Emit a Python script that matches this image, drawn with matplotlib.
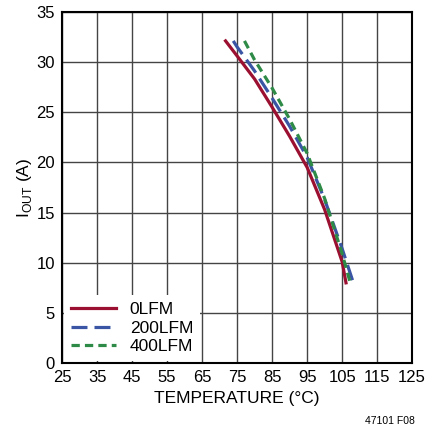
import matplotlib
matplotlib.use("Agg")
import matplotlib.pyplot as plt
from matplotlib import font_manager

# Data
temp_0lfm = [71.7, 75, 80, 85, 90, 95, 100, 105, 106.1]
iout_0lfm = [32.1, 30.6, 28.3, 25.5, 22.6, 19.5, 15.3, 10.1, 8.0]
temp_200lfm = [73.9, 75, 80, 85, 90, 95, 100, 105, 108.3]
iout_200lfm = [32.1, 31.5, 29.1, 26.4, 23.6, 20.5, 16.3, 11.4, 7.9]
temp_400lfm = [77.1, 80, 85, 90, 95, 100, 105, 107.4]
iout_400lfm = [32.1, 30.2, 27.4, 24.3, 20.9, 16.4, 10.9, 7.9]
x_ticks = list(range(25, 126, 10))
y_ticks = list(range(0, 36, 5))

names = {f.name for f in font_manager.fontManager.ttflist}
family = "Liberation Sans" if "Liberation Sans" in names else "DejaVu Sans"
plt.rcParams["font.family"] = [family, "DejaVu Sans"]
plt.rcParams["mathtext.fontset"] = "custom"
plt.rcParams["mathtext.rm"] = family

fig = plt.figure(figsize=(4.28, 4.37), dpi=100)
ax = fig.add_axes([0.145, 0.169, 0.818, 0.804])

ax.plot(temp_0lfm, iout_0lfm, color="#9b1030", lw=2.3, label="0LFM")
ax.plot(temp_200lfm, iout_200lfm, color="#3a55a4", lw=2.3, dashes=(5, 2.2), label="200LFM")
ax.plot(temp_400lfm, iout_400lfm, color="#2e8b47", lw=2.3, dashes=(2.6, 1.6), label="400LFM")

ax.set_xlim(25, 125)
ax.set_ylim(0, 35)
ax.set_xticks(x_ticks)
ax.set_yticks(y_ticks)
ax.tick_params(length=0, labelsize=12, pad=5)
ax.grid(True, color="#444444", lw=1.0)
ax.set_axisbelow(True)
for s in ax.spines.values():
    s.set_linewidth(1.5)
    s.set_color("black")

ax.set_xlabel("TEMPERATURE (°C)", fontsize=12.5, labelpad=4)
ax.set_ylabel(r"I$_{\mathregular{OUT}}$ (A)", fontsize=12.5, labelpad=2)

leg = ax.legend(loc="lower left", frameon=True, fontsize=12.5, handlelength=2.6,
                handletextpad=0.8, borderaxespad=0.1, labelspacing=0.2,
                bbox_to_anchor=(0.0, 0.0))
leg.get_frame().set_edgecolor("none")
leg.get_frame().set_facecolor("white")
leg.get_frame().set_alpha(1.0)

fig.text(0.97, 0.025, "47101 F08", fontsize=7.5, ha="right", va="bottom")

fig.savefig("out.png", dpi=100)
